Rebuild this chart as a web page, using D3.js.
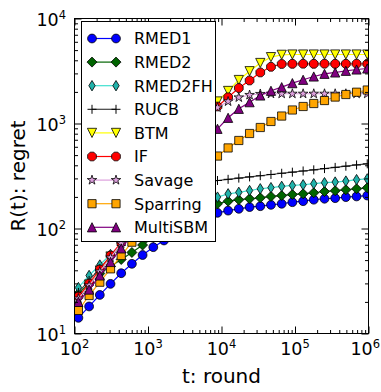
<!DOCTYPE html>
<html><head><meta charset="utf-8">
<script src="https://cdn.jsdelivr.net/npm/d3@7"></script>
<style>body{margin:0;background:#fff} svg{display:block} text{font-family:"DejaVu Sans",sans-serif;fill:#000}</style>
</head><body><svg id="c" width="381" height="392"></svg>
<script>
// ---------- data ----------
const rounds = [113,158,221,309,432,604,844,1180,1650,2310,3230,4510,6310,8820,12300,17200,24100,33700,47100,65900,92100,129000,180000,252000,352000,492000,688000,962000];
const seriesNames = ["RMED1","RMED2","RMED2FH","RUCB","BTM","IF","Savage","Sparring","MultiSBM"];
const rmed1    = [14.1,18.1,23.3,29.7,37.5,46.1,55.9,66.4,76.9,88.1,100.5,113,127,141,148,154,160,163,168,172,178,182,188,192,194.5,199,202,206];
const rmed2    = [24.0,29.9,37.3,43.5,50.7,59.1,69.6,82,100,119,139,153,164,172,182,188,192,196,202,206,211,214,219,225,229,234,239,244];
const rmed2fh  = [27.4,35.7,44.9,56.5,70.4,86.7,104.5,123,142,160,175,185,193,199,214,221,230,239,245,252,257,261,267,273,277,283,292,297];
const rucb     = [24.6,32.0,41.6,54.1,68.9,87.7,112,139,169,202,230,254,271,286.5,294,302,310,318,327,336,344,353,362,372,382,392,403,413];
const btm      = [22.0,29.3,39.8,54.1,71.9,101,142,199.5,280,398,565,803,1140,1621,2042,2596,3148,3770,4285,4512,4540,4540,4540,4540,4540,4540,4540,4540];
const ifAlg    = [22.5,29.9,40.7,55.3,73.6,104.5,147,206,290,407,565,785,1091,1452,1778,2178,2569,3062,3467,3687,3700,3705,3700,3705,3700,3700,3705,3700];
const savage   = [21.5,28.6,38.9,52.9,71.9,100,139,193,268,373,518,720,1023,1419,1620,1770,1868,1910,1920,1920,1920,1920,1920,1920,1920,1920,1920,1920];
const sparring = [16.6,23.0,30.8,41.3,55.3,74.1,95.7,122,157,200,254,320,398,490,585,689,803,916,1045,1178,1345,1452,1550,1655,1787,1888,1986,2084];
const multisbm = [20.0,26.2,35.7,48.0,64.6,86.7,116.6,156.7,211,283,381,513,681,890,1133,1380,1596,1848,2049,2218,2422,2608,2803,2973,3062,3176,3268,3342];
const xTicks = [1e2,1e3,1e4,1e5,1e6];
const xTickExp = ["2","3","4","5","6"];
const yTicks = [1e1,1e2,1e3,1e4];
const yTickExp = ["1","2","3","4"];
const xLabel = "t: round";
const yLabel = "R(t): regret";

// ---------- styles ----------
const styles = [
  {line:"#0000ff", fill:"#0000ff", m:"o"},
  {line:"#006400", fill:"#006400", m:"D"},
  {line:"#40e0d0", fill:"#20b2aa", m:"d"},
  {line:"#404040", fill:"none",    m:"+"},
  {line:"#ffff00", fill:"#ffff00", m:"v"},
  {line:"#ff0000", fill:"#ff0000", m:"8"},
  {line:"#dda0dd", fill:"#dda0dd", m:"*"},
  {line:"#ffa500", fill:"#ffa500", m:"s"},
  {line:"#800080", fill:"#800080", m:"^"}
];
const allSeries = [rmed1,rmed2,rmed2fh,rucb,btm,ifAlg,savage,sparring,multisbm];

function poly(pts){return "M"+pts.map(p=>p[0].toFixed(2)+","+p[1].toFixed(2)).join("L")+"Z";}
function markerPath(t){
  switch(t){
    case "o": return d3.symbol(d3.symbolCircle, Math.PI*4.4*4.4)();
    case "D": return poly([[0,-5],[5,0],[0,5],[-5,0]]);
    case "d": return poly([[0,-5.2],[3.2,0],[0,5.2],[-3.2,0]]);
    case "+": return "M-4.5,0H4.5M0,-4.5V4.5";
    case "v": return poly([[-4.6,-4.6],[4.6,-4.6],[0,4.6]]);
    case "^": return poly([[-4.6,4.6],[4.6,4.6],[0,-4.6]]);
    case "s": return poly([[-4.1,-4.1],[4.1,-4.1],[4.1,4.1],[-4.1,4.1]]);
    case "*": { const p=[]; for(let i=0;i<10;i++){const r=i%2?1.9:5; const a=-Math.PI/2+i*Math.PI/5; p.push([r*Math.cos(a),r*Math.sin(a)]);} return poly(p);}
    case "8": { const p=[]; for(let i=0;i<8;i++){const a=Math.PI/8+i*Math.PI/4; p.push([4.7*Math.cos(a),4.7*Math.sin(a)]);} return poly(p);}
  }
}

// ---------- scales ----------
const L=74.5, R=368.5, T=18.5, B=333.5;
const x = d3.scaleLog().domain([1e2,1e6]).range([L,R]);
const y = d3.scaleLog().domain([1e1,1e4]).range([B,T]);
const svg = d3.select("#c");

svg.append("defs").append("clipPath").attr("id","clip")
  .append("rect").attr("x",L).attr("y",T).attr("width",R-L).attr("height",B-T);

const plot = svg.append("g").attr("clip-path","url(#clip)");
const line = d3.line().x((d,i)=>x(rounds[i])).y(d=>y(d));

allSeries.forEach((vals,si)=>{
  const st = styles[si];
  const g = plot.append("g");
  g.append("path").attr("d",line(vals)).attr("fill","none").attr("stroke",st.line).attr("stroke-width",1.2);
  const mp = markerPath(st.m);
  g.selectAll("path.m").data(vals).enter().append("path").attr("class","m")
    .attr("d",mp)
    .attr("transform",(d,i)=>`translate(${x(rounds[i])},${y(d)})`)
    .attr("fill",st.m==="+"?"none":st.fill)
    .attr("stroke","#000").attr("stroke-width",st.m==="+"?1:0.8);
});

// ---------- axes ----------
const minorX=[], minorY=[];
[1e2,1e3,1e4,1e5].forEach(d=>{for(let k=2;k<10;k++) minorX.push(k*d);});
[1e1,1e2,1e3].forEach(d=>{for(let k=2;k<10;k++) minorY.push(k*d);});

function styleAxis(g){g.select(".domain").remove(); g.selectAll("line").attr("stroke","#000").attr("stroke-width",1);}
svg.append("g").attr("transform",`translate(0,${B})`).call(d3.axisBottom(x).tickValues(xTicks).tickSize(-7).tickFormat("")).call(styleAxis);
svg.append("g").attr("transform",`translate(0,${B})`).call(d3.axisBottom(x).tickValues(minorX).tickSize(-3.5).tickFormat("")).call(styleAxis);
svg.append("g").attr("transform",`translate(0,${T})`).call(d3.axisTop(x).tickValues(xTicks).tickSize(-7).tickFormat("")).call(styleAxis);
svg.append("g").attr("transform",`translate(0,${T})`).call(d3.axisTop(x).tickValues(minorX).tickSize(-3.5).tickFormat("")).call(styleAxis);
svg.append("g").attr("transform",`translate(${L},0)`).call(d3.axisLeft(y).tickValues(yTicks).tickSize(-7).tickFormat("")).call(styleAxis);
svg.append("g").attr("transform",`translate(${L},0)`).call(d3.axisLeft(y).tickValues(minorY).tickSize(-3.5).tickFormat("")).call(styleAxis);
svg.append("g").attr("transform",`translate(${R},0)`).call(d3.axisRight(y).tickValues(yTicks).tickSize(-7).tickFormat("")).call(styleAxis);
svg.append("g").attr("transform",`translate(${R},0)`).call(d3.axisRight(y).tickValues(minorY).tickSize(-3.5).tickFormat("")).call(styleAxis);

svg.append("rect").attr("x",L).attr("y",T).attr("width",R-L).attr("height",B-T)
  .attr("fill","none").attr("stroke","#000").attr("stroke-width",1);

// tick labels
xTicks.forEach((v,i)=>{
  const t = svg.append("text").attr("x",x(v)).attr("y",355).attr("text-anchor","middle").attr("font-size",17.5);
  t.append("tspan").text("10");
  t.append("tspan").attr("dy",-7.5).attr("font-size",11.5).text(xTickExp[i]);
  const w = t.node().getComputedTextLength();
  if (x(v) + w/2 > 380) t.attr("x", 380 - w/2);
});
yTicks.forEach((v,i)=>{
  const t = svg.append("text").attr("x",66).attr("y",y(v)+7.5).attr("text-anchor","end").attr("font-size",17.5);
  t.append("tspan").text("10");
  t.append("tspan").attr("dy",-7.5).attr("font-size",11.5).text(yTickExp[i]);
});

// axis labels
svg.append("text").attr("x",(L+R)/2).attr("y",383).attr("text-anchor","middle").attr("font-size",20).text(xLabel);
svg.append("text").attr("transform",`translate(25,${(T+B)/2}) rotate(-90)`).attr("text-anchor","middle").attr("font-size",20).text(yLabel);

// ---------- legend ----------
const lg = svg.append("g");
lg.append("rect").attr("x",81.5).attr("y",21.5).attr("width",134).attr("height",220)
  .attr("fill","#fff").attr("stroke","#000").attr("stroke-width",1);
seriesNames.forEach((name,i)=>{
  const st = styles[i];
  const yy = 38.5 + 23.6*i;
  lg.append("line").attr("x1",92).attr("x2",116).attr("y1",yy).attr("y2",yy).attr("stroke",st.line).attr("stroke-width",1.2);
  [92,116].forEach(xx=>{
    lg.append("path").attr("d",markerPath(st.m)).attr("transform",`translate(${xx},${yy})`)
      .attr("fill",st.m==="+"?"none":st.fill).attr("stroke","#000").attr("stroke-width",st.m==="+"?1:0.8);
  });
  lg.append("text").attr("x",134).attr("y",yy+5.8).attr("font-size",16).text(name);
});
</script>
</body></html>
